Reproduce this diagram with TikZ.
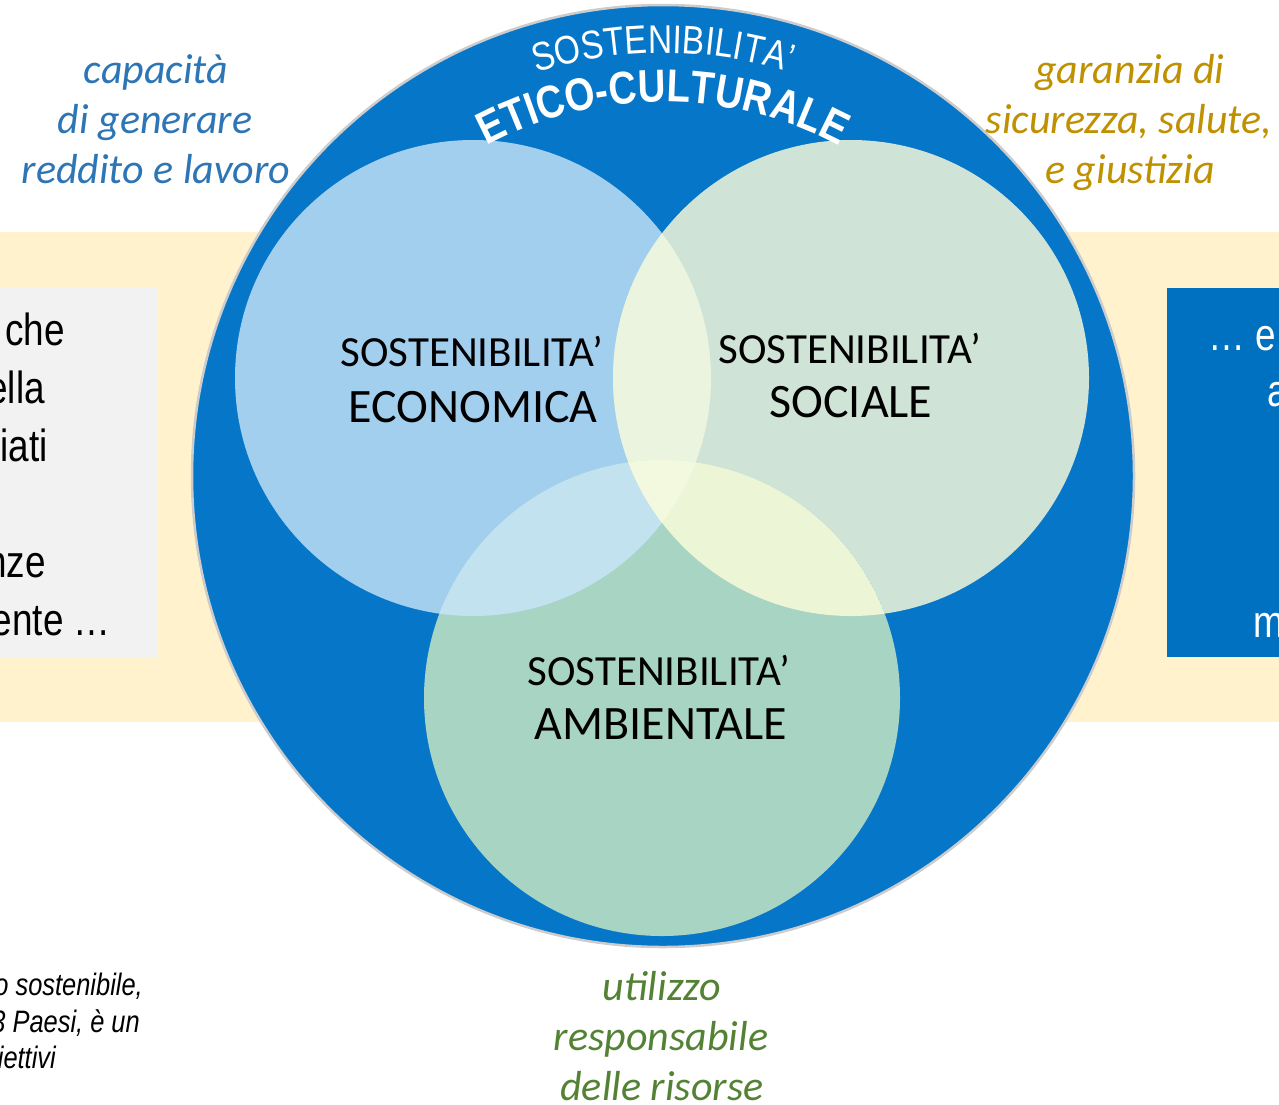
\documentclass[tikz,border=0pt]{standalone}
\usepackage{fontspec}
\setmainfont{Liberation Sans}
\newfontfamily\carlito{Carlito}
\newfontfamily\arialn[FakeStretch=0.82]{Liberation Sans}
\newfontfamily\arcfont[FakeStretch=0.84]{Liberation Sans}
\usetikzlibrary{decorations.text,calc}
\definecolor{bigblue}{HTML}{0676C9}
\definecolor{boxblue}{HTML}{0070C0}
\definecolor{band}{HTML}{FFF2CC}
\definecolor{boxgray}{HTML}{F2F2F2}
\definecolor{eco}{HTML}{A3CFEF}
\definecolor{soc}{HTML}{CFE4D6}
\definecolor{amb}{HTML}{A8D4C4}
\definecolor{ecosoc}{HTML}{EAF4DE}
\definecolor{ecoamb}{HTML}{C3E2EF}
\definecolor{socamb}{HTML}{ECF5D5}
\definecolor{allthree}{HTML}{F3F9DE}
\definecolor{lblue}{HTML}{2E75B6}
\definecolor{lgold}{HTML}{BF9000}
\definecolor{lgreen}{HTML}{548235}
\begin{document}
\begin{tikzpicture}[x=1pt,y=-1pt,
  lab/.style={anchor=base, inner sep=0pt},
  itlab/.style={lab, font=\carlito\itshape\fontsize{42}{50}\selectfont},
  circlab/.style={lab, font=\carlito\fontsize{43}{50}\selectfont},
  circlabB/.style={lab, font=\carlito\fontsize{48}{50}\selectfont},
  boxtxt/.style={inner sep=0pt, font=\arialn\fontsize{45}{50}\selectfont},
  notetxt/.style={inner sep=0pt, anchor=base east, font=\arialn\itshape\fontsize{31}{34}\selectfont},
  venn/.style={circle, inner sep=0pt, minimum size=476pt}
]
\useasboundingbox (0,0) rectangle (1279,1104);
\fill[white] (0,0) rectangle (1279,1104);
% band and side boxes
\node[fill=band, anchor=north west, inner sep=0pt, minimum width=1279pt, minimum height=490pt] (band) at (0,232) {};
\node[fill=boxgray, anchor=north west, inner sep=0pt, minimum width=157pt, minimum height=369pt] (lbox) at (0,288) {};
\node[fill=boxblue, anchor=north west, inner sep=0pt, minimum width=120pt, minimum height=369pt] (rbox) at (1167,288) {};
% left box fragments
\node[boxtxt, anchor=base east] (l1) at (65,345) {che};
\node[boxtxt, anchor=base east] (l2) at (45,403) {ella};
\node[boxtxt, anchor=base east] (l3) at (48,461) {iati};
\node[boxtxt, anchor=base east] (l4) at (46,577) {nze};
\node[boxtxt, anchor=base east] (l5) at (111,635) {ente …};
% right box fragments
\node[boxtxt, anchor=base west, text=white] (r1) at (1208,350) {… e};
\node[boxtxt, anchor=base west, text=white] (r2) at (1267,406) {a};
\node[boxtxt, anchor=base west, text=white] (r3) at (1253,637) {m};
% big circle
\node[circle, inner sep=0pt, minimum size=942pt, fill=bigblue, draw=gray!40, line width=2.5pt] (big) at (663,476) {};
% venn circles
\node[venn, fill=eco] (ec) at (473,378) {};
\node[venn, fill=soc] (so) at (851,378) {};
\node[venn, fill=amb] (am) at (662,698) {};
\begin{scope}
  \clip (ec.center) circle[radius=238pt];
  \fill[ecosoc] (so.center) circle[radius=238pt];
  \fill[ecoamb] (am.center) circle[radius=238pt];
  \clip (so.center) circle[radius=238pt];
  \fill[allthree] (am.center) circle[radius=238pt];
\end{scope}
\begin{scope}
  \clip (so.center) circle[radius=238pt];
  \clip (am.center) circle[radius=238pt];
  \fill[socamb] (am.center) circle[radius=238pt];
  \clip (ec.center) circle[radius=238pt];
  \fill[allthree] (am.center) circle[radius=238pt];
\end{scope}
% circle labels
\node[circlab] (e1) at (472,366) {SOSTENIBILITA’};
\node[circlabB] (e2) at (473,422) {ECONOMICA};
\node[circlab] (s1) at (850,363) {SOSTENIBILITA’};
\node[circlabB] (s2) at (851,417) {SOCIALE};
\node[circlab] (a1) at (659,685) {SOSTENIBILITA’};
\node[circlabB] (a2) at (661,739) {AMBIENTALE};
% arc titles
\path[decorate, decoration={text along path, text align=center,
  text={|\arcfont\fontsize{40}{40}\selectfont\color{white}|SOSTENIBILITA’}}]
  (big.center) ++(150:423pt) arc[start angle=150, end angle=30, radius=423pt];
\path[decorate, decoration={text along path, text align=center,
  text={|\arcfont\bfseries\fontsize{46}{46}\selectfont\color{white}|ETICO-CULTURALE}}]
  (big.center) ++(150:374pt) arc[start angle=150, end angle=30, radius=374pt];
% outer italic labels
\node[itlab, text=lblue] (b1) at (156,83) {capacità};
\node[itlab, text=lblue] (b2) at (155,133) {di generare};
\node[itlab, text=lblue] (b3) at (156,183) {reddito e lavoro};
\node[itlab, text=lgold] (g1) at (1130,83) {garanzia di};
\node[itlab, text=lgold] (g2) at (1129,133) {sicurezza, salute,};
\node[itlab, text=lgold] (g3) at (1130,183) {e giustizia};
\node[itlab, text=lgreen] (v1) at (662,1000) {utilizzo};
\node[itlab, text=lgreen] (v2) at (661,1050) {responsabile};
\node[itlab, text=lgreen] (v3) at (662,1100) {delle risorse};
% bottom-left note
\node[notetxt] (n1) at (143,995) {o sostenibile,};
\node[notetxt] (n2) at (140,1032) {3 Paesi, è un};
\node[notetxt] (n3) at (56,1068) {iettivi};
\end{tikzpicture}
\end{document}
